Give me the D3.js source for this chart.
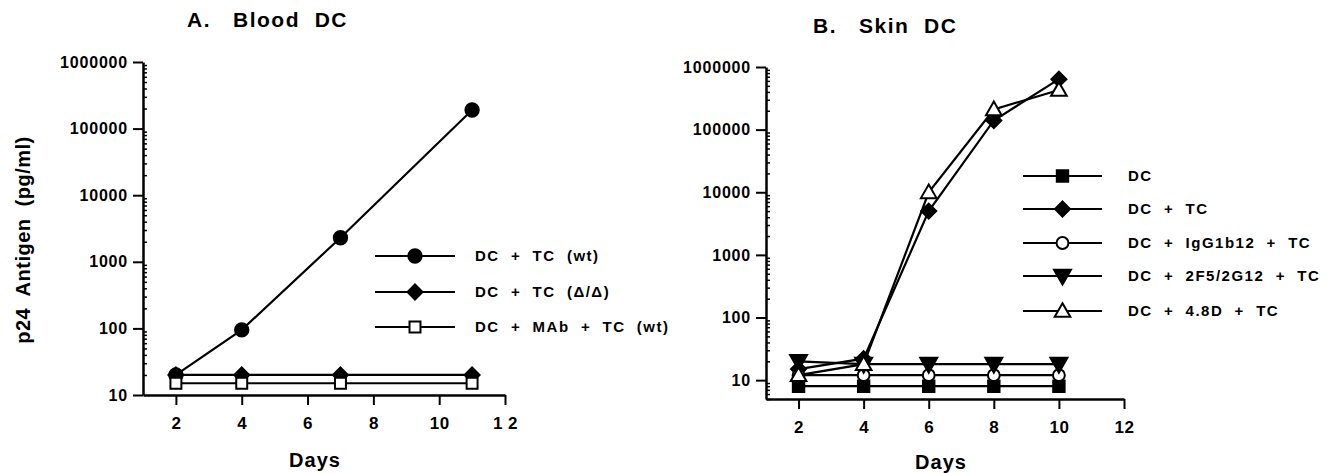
<!DOCTYPE html>
<html><head><meta charset="utf-8">
<script src="https://cdn.jsdelivr.net/npm/d3@7"></script>
<style>
body{margin:0;background:#fff;}
svg text{font-family:"Liberation Sans",Arial,Helvetica,sans-serif;font-weight:bold;fill:#000;white-space:pre;}
</style></head>
<body>
<svg id="c" width="1343" height="473"></svg>
<script>
// ---- Panel A data ----
const daysA = [2, 4, 7, 11];
const seriesNamesA = ["DC  +  TC  (wt)", "DC  +  TC  (\u0394/\u0394)", "DC  +  MAb  +  TC  (wt)"];
const wtA = [20, 95, 2300, 190000];
const ddA = [20, 20, 20, 20];
const mabA = [15, 15, 15, 15];
const xTicksA = [2, 4, 6, 8, 10, 12];
const xTickLabelsA = ["2", "4", "6", "8", "10", "1 2"];
const yTicksA = [10, 100, 1000, 10000, 100000, 1000000];

// ---- Panel B data ----
const daysB = [2, 4, 6, 8, 10];
const seriesNamesB = ["DC", "DC  +  TC", "DC  +  IgG1b12  +  TC", "DC  +  2F5/2G12  +  TC", "DC  +  4.8D  +  TC"];
const dcB = [8, 8, 8, 8, 8];
const dctcB = [15, 22, 5000, 140000, 640000];
const iggB = [12, 12, 12, 12, 12];
const f5B = [20, 18, 18, 18, 18];
const d48B = [12, 18, 10000, 210000, 430000];
const xTicksB = [2, 4, 6, 8, 10, 12];
const xTickLabelsB = ["2", "4", "6", "8", "10", "12"];
const yTicksB = [10, 100, 1000, 10000, 100000, 1000000];

const svg = d3.select("#c");

const diamond = {draw(ctx, size){const r=Math.sqrt(size)*0.75; ctx.moveTo(0,-r); ctx.lineTo(r,0); ctx.lineTo(0,r); ctx.lineTo(-r,0); ctx.closePath();}};
const triDown = {draw(ctx, size){const s=Math.sqrt(size); ctx.moveTo(-s*0.6,-s*0.45); ctx.lineTo(s*0.6,-s*0.45); ctx.lineTo(0,s*0.6); ctx.closePath();}};
const triUp = {draw(ctx, size){const s=Math.sqrt(size); ctx.moveTo(-s*0.6,s*0.45); ctx.lineTo(s*0.6,s*0.45); ctx.lineTo(0,-s*0.6); ctx.closePath();}};
const sty = {
  circleF:{type:d3.symbolCircle,size:140,fill:"#000"},
  circleO:{type:d3.symbolCircle,size:110,fill:"#fff"},
  diamondF:{type:diamond,size:100,fill:"#000"},
  squareO:{type:d3.symbolSquare,size:120,fill:"#fff"},
  squareF:{type:d3.symbolSquare,size:130,fill:"#000"},
  triDownF:{type:triDown,size:200,fill:"#000"},
  triUpO:{type:triUp,size:170,fill:"#fff"}
};

function drawPanel(cfg){
  const g = svg.append("g");
  const x = d3.scaleLinear().domain(cfg.xDomain).range(cfg.xRange);
  const y = d3.scaleLog().domain(cfg.yDomain).range(cfg.yRange);
  const minor = [];
  for(let e=0;e<7;e++) for(let m=2;m<=9;m++){const v=m*Math.pow(10,e); if(v>=cfg.yDomain[0]&&v<=cfg.yDomain[1]) minor.push(v);}
  g.append("g").attr("transform",`translate(${cfg.xRange[0]},0)`)
    .call(d3.axisRight(y).tickValues(minor).tickSize(4).tickFormat(""))
    .call(a=>{a.select(".domain").remove();a.selectAll("line").attr("stroke-width",1.5);});
  const ya = g.append("g").attr("transform",`translate(${cfg.xRange[0]},0)`)
    .call(d3.axisLeft(y).tickValues(cfg.yTicks).tickSize(10).tickSizeOuter(0).tickPadding(5).tickFormat(d3.format("d")));
  ya.attr("font-size",null).attr("font-family",null);
  ya.select(".domain").attr("stroke-width",2.5);
  ya.selectAll("line").attr("stroke-width",2);
  ya.selectAll("text").style("font-size","16px").style("letter-spacing","0.8px");
  const xa = g.append("g").attr("transform",`translate(0,${cfg.yRange[0]})`)
    .call(d3.axisBottom(x).tickValues(cfg.xTicks).tickSize(10).tickSizeOuter(0).tickPadding(12)
      .tickFormat((d,i)=>cfg.xTickLabels[i]));
  xa.attr("font-size",null).attr("font-family",null);
  xa.select(".domain").attr("stroke-width",2.5);
  xa.selectAll("line").attr("stroke-width",2);
  xa.selectAll("text").style("font-size","17px").style("letter-spacing","0.5px");

  cfg.series.forEach(s=>{
    const line = d3.line().x((d,i)=>x(cfg.days[i])).y(d=>y(d));
    g.append("path").attr("d",line(s.values)).attr("fill","none").attr("stroke","#000").attr("stroke-width",2.2);
  });
  cfg.series.forEach(s=>{
    const st = sty[s.marker];
    g.selectAll(null).data(s.values).enter().append("path")
      .attr("transform",(d,i)=>`translate(${x(cfg.days[i])},${y(d)})`)
      .attr("d",d3.symbol().type(st.type).size(st.size)())
      .attr("fill",st.fill).attr("stroke","#000").attr("stroke-width",2);
  });
  cfg.series.forEach((s,i)=>{
    const ly = cfg.legend.y[i];
    const st = sty[s.marker];
    g.append("line").attr("x1",cfg.legend.x1).attr("x2",cfg.legend.x2).attr("y1",ly).attr("y2",ly)
      .attr("stroke","#000").attr("stroke-width",2.2);
    g.append("path").attr("transform",`translate(${(cfg.legend.x1+cfg.legend.x2)/2},${ly})`)
      .attr("d",d3.symbol().type(st.type).size(st.size)())
      .attr("fill",st.fill).attr("stroke","#000").attr("stroke-width",2);
    g.append("text").attr("x",cfg.legend.tx).attr("y",ly).attr("dy","0.35em")
      .style("font-size","15px").style("letter-spacing","1.5px").text(s.name);
  });
  g.append("text").attr("x",cfg.title.x).attr("y",cfg.title.y).style("font-size","21px")
    .style("letter-spacing","1.5px").text(cfg.title.text);
  g.append("text").attr("x",cfg.xlabel.x).attr("y",cfg.xlabel.y).attr("text-anchor","middle")
    .style("font-size","20px").style("letter-spacing","1px").text("Days");
  return {x,y};
}

drawPanel({
  xDomain:[1,12], xRange:[143,505], yDomain:[10,1e6], yRange:[395,62],
  yTicks:yTicksA, xTicks:xTicksA, xTickLabels:xTickLabelsA, days:daysA,
  series:[
    {name:seriesNamesA[0], values:wtA, marker:"circleF"},
    {name:seriesNamesA[1], values:ddA, marker:"diamondF"},
    {name:seriesNamesA[2], values:mabA, marker:"squareO"}
  ],
  legend:{x1:375,x2:455,tx:475,y:[256,292,327]},
  title:{x:187,y:27,text:"A.   Blood  DC"},
  xlabel:{x:315,y:467}
});
drawPanel({
  xDomain:[1,12], xRange:[766,1124], yDomain:[5,1e6], yRange:[399,67],
  yTicks:yTicksB, xTicks:xTicksB, xTickLabels:xTickLabelsB, days:daysB,
  series:[
    {name:seriesNamesB[0], values:dcB, marker:"squareF"},
    {name:seriesNamesB[1], values:dctcB, marker:"diamondF"},
    {name:seriesNamesB[2], values:iggB, marker:"circleO"},
    {name:seriesNamesB[3], values:f5B, marker:"triDownF"},
    {name:seriesNamesB[4], values:d48B, marker:"triUpO"}
  ],
  legend:{x1:1023,x2:1102,tx:1128,y:[176,209,243,276,311]},
  title:{x:813,y:33,text:"B.   Skin  DC"},
  xlabel:{x:941,y:469}
});
svg.append("text").attr("transform","translate(30,240) rotate(-90)").attr("text-anchor","middle")
  .style("font-size","20px").style("letter-spacing","0.5px").text("p24  Antigen  (pg/ml)");
</script>
</body></html>
